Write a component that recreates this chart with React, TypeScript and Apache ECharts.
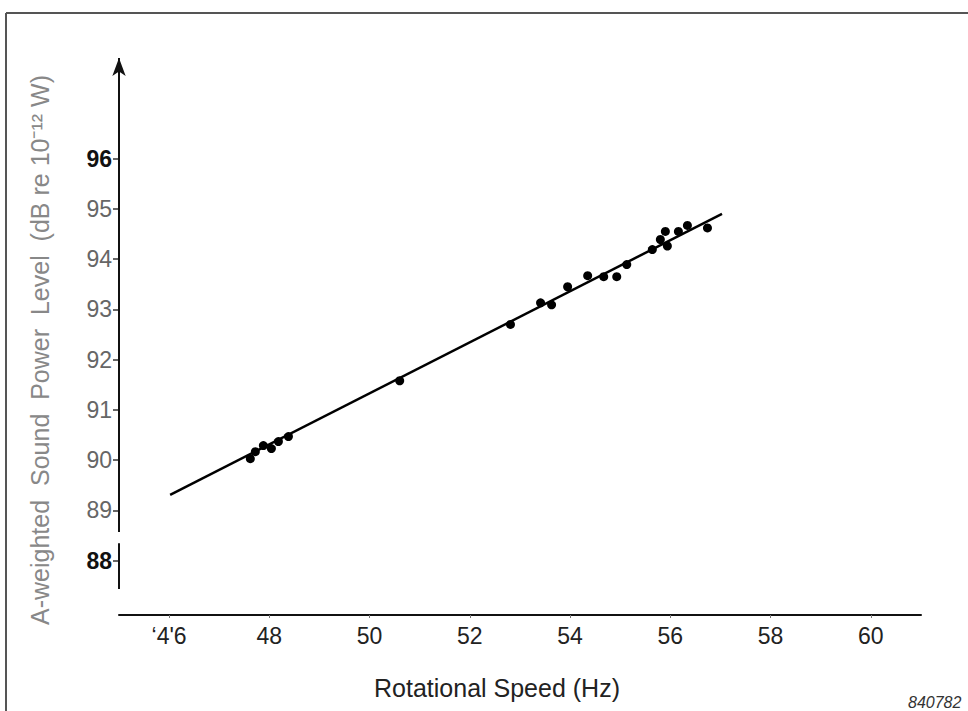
import React, { useEffect, useRef } from 'react';
import * as echarts from 'echarts';

const speedHz = [47.62, 47.72, 47.88, 48.04, 48.18, 48.38, 50.6, 52.81, 53.41, 53.63, 53.95, 54.35, 54.67, 54.93, 55.13, 55.64, 55.8, 55.9, 55.94, 56.16, 56.34, 56.74];
const powerDb = [90.03, 90.17, 90.29, 90.23, 90.37, 90.47, 91.58, 92.7, 93.13, 93.09, 93.45, 93.67, 93.65, 93.65, 93.89, 94.19, 94.39, 94.55, 94.26, 94.55, 94.67, 94.62];
const fitSpeed = [46.02, 57.03];
const fitPower = [89.31, 94.9];
const xTickValues = [46, 48, 50, 52, 54, 56, 58, 60];
const xTickLabels = ["‘4'6", '48', '50', '52', '54', '56', '58', '60'];
const yTickValues = [88, 89, 90, 91, 92, 93, 94, 95, 96];
const yTickLabels = ['88', '89', '90', '91', '92', '93', '94', '95', '96'];
const yEmphasised = ['88', '96'];
const xTitle = 'Rotational Speed (Hz)';
const yTitle = 'A-weighted  Sound  Power  Level  (dB re 10⁻¹² W)';
const figureId = '840782';

const FONT = '"Liberation Sans", Arial, Helvetica, sans-serif';

export default function App() {
  const ref = useRef<HTMLDivElement>(null);
  useEffect(() => {
    const chart = echarts.init(ref.current!, null, { renderer: 'svg' });
    const points = speedHz.map((x, i) => [x, powerDb[i]]);
    const fit = fitSpeed.map((x, i) => [x, fitPower[i]]);
    chart.setOption({
      animation: false,
      backgroundColor: '#fff',
      textStyle: { fontFamily: FONT },
      grid: { left: 119, right: 47, top: 58, bottom: 100, containLabel: false },
      xAxis: {
        type: 'value',
        min: 45,
        max: 61,
        offset: 4,
        axisLine: { show: true, lineStyle: { color: '#111', width: 2 } },
        axisTick: { show: true, customValues: xTickValues, length: 3, lineStyle: { color: '#777', width: 1 } },
        axisLabel: {
          customValues: xTickValues,
          formatter: (v: number) => xTickLabels[xTickValues.indexOf(v)] ?? '',
          fontSize: 23,
          color: '#222',
          margin: 9,
          fontFamily: FONT,
        },
        splitLine: { show: false },
      },
      yAxis: {
        type: 'value',
        min: 87,
        max: 98,
        axisLine: { show: false },
        axisTick: { show: true, customValues: yTickValues, length: 6, lineStyle: { color: '#333', width: 1.5 } },
        axisLabel: {
          customValues: yTickValues,
          margin: 7,
          formatter: (v: number) => {
            const s = yTickLabels[yTickValues.indexOf(v)] ?? '';
            return yEmphasised.includes(s) ? `{b|${s}}` : `{n|${s}}`;
          },
          rich: {
            b: { fontSize: 23, fontWeight: 'bold', color: '#111', fontFamily: FONT },
            n: { fontSize: 23, color: '#666', fontFamily: FONT },
          },
        },
        splitLine: { show: false },
      },
      series: [
        {
          type: 'line',
          data: fit,
          symbol: 'none',
          lineStyle: { color: '#000', width: 2.5 },
          silent: true,
          z: 2,
        },
        {
          type: 'scatter',
          data: points,
          symbolSize: 9,
          itemStyle: { color: '#000', opacity: 1 },
          silent: true,
          z: 3,
        },
        {
          type: 'scatter',
          data: [],
          silent: true,
          markLine: {
            silent: true,
            animation: false,
            symbol: 'none',
            label: { show: false },
            lineStyle: { color: '#111', width: 2, type: 'solid' },
            emphasis: { disabled: true },
            data: [
              [
                { coord: [45, 88.57], symbol: 'none' },
                { coord: [45, 98], symbol: 'arrow', symbolSize: [10, 18] },
              ],
              [
                { coord: [45, 87.44], symbol: 'none' },
                { coord: [45, 88.35], symbol: 'none' },
              ],
              [
                { coord: [44.86, 87.32], symbol: 'none' },
                { coord: [45.18, 87.44], symbol: 'none' },
              ],
            ],
          },
        },
      ],
      graphic: [
        { type: 'line', shape: { x1: 6, y1: 13, x2: 6, y2: 711 }, style: { stroke: '#555', lineWidth: 2 } },
        { type: 'line', shape: { x1: 6, y1: 13, x2: 968, y2: 13 }, style: { stroke: '#555', lineWidth: 2 } },
        {
          type: 'text',
          x: 40,
          y: 350,
          rotation: Math.PI / 2,
          style: {
            text: yTitle,
            fill: '#888',
            font: `25px ${FONT}`,
            align: 'center',
            verticalAlign: 'middle',
          },
        },
        {
          type: 'text',
          x: 497,
          y: 688,
          style: {
            text: xTitle,
            fill: '#222',
            font: `25px ${FONT}`,
            align: 'center',
            verticalAlign: 'middle',
          },
        },
        {
          type: 'text',
          x: 908,
          y: 702,
          style: {
            text: figureId,
            fill: '#333',
            font: `italic 16px ${FONT}`,
            align: 'left',
            verticalAlign: 'middle',
          },
        },
      ],
    });
    return () => chart.dispose();
  }, []);
  return (
    <div
      ref={ref}
      style={{ position: 'fixed', left: 0, top: 0, width: 968, height: 711, background: '#fff' }}
    />
  );
}
